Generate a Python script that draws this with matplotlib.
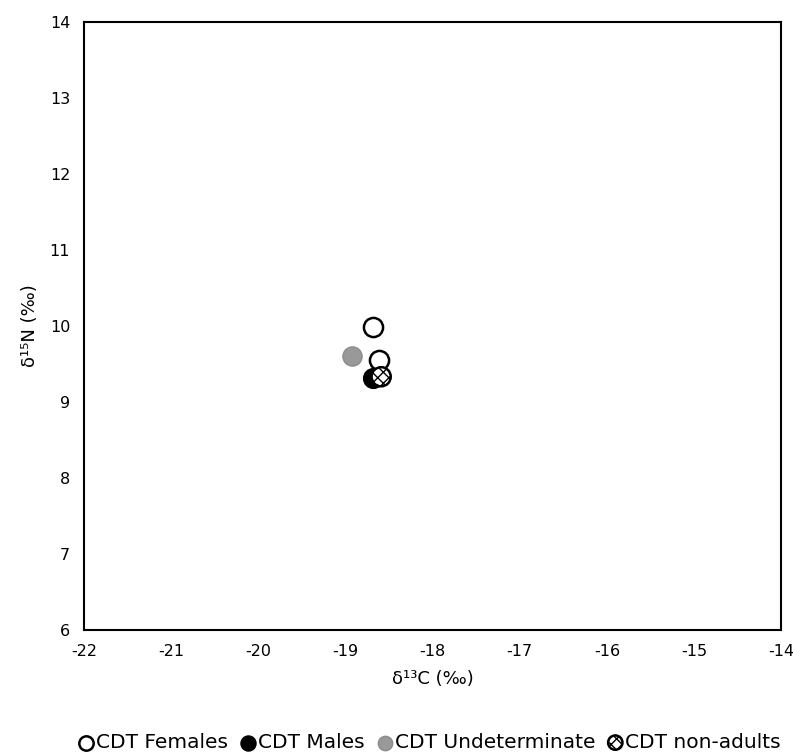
import numpy as np
import matplotlib.pyplot as plt
from matplotlib.ticker import MultipleLocator

X_START = -22
X_END = -14
Y_START = 6
Y_END = 14
X_LABEL = "δ¹³C (‰)"
Y_LABEL = "δ¹⁵N (‰)"

# data
fem_x = [-18.68, -18.62]
fem_y = [9.99, 9.55]
male_x = [-18.68]
male_y = [9.32]
und_x = [-18.92]
und_y = [9.60]
nonad_x = [-18.59]
nonad_y = [9.33]

plt.rcParams['font.family'] = ['DejaVu Sans']
plt.rcParams['font.size'] = 11.5
plt.rcParams['axes.unicode_minus'] = False

fig = plt.figure(figsize=(7.93, 7.56), dpi=100)
ax = fig.add_axes([0.106, 0.167, 0.879, 0.804])

S = 190
ax.scatter(und_x, und_y, s=S, facecolor="#999999", edgecolor="#8c8c8c", linewidths=1, label="CDT Undeterminate", zorder=3)
ax.scatter(male_x, male_y, s=S, facecolor="black", edgecolor="black", linewidths=1.5, label="CDT Males", zorder=3)
ax.scatter(fem_x, fem_y, s=S, facecolor="white", edgecolor="black", linewidths=1.8, label="CDT Females", zorder=4)
ax.scatter(nonad_x, nonad_y, s=S, facecolor="white", edgecolor="black", linewidths=1.8, hatch="xxx", label="CDT non-adults", zorder=5)

ax.set_xlim(X_START, X_END)
ax.set_ylim(Y_START, Y_END)
ax.xaxis.set_major_locator(MultipleLocator(1))
ax.yaxis.set_major_locator(MultipleLocator(1))
ax.tick_params(length=0, pad=10)
for sp in ax.spines.values():
    sp.set_linewidth(1.5)

ax.set_xlabel(X_LABEL, labelpad=8, fontsize=13)
ax.set_ylabel(Y_LABEL, labelpad=8, fontsize=13)

h, l = ax.get_legend_handles_labels()
order = [2, 1, 0, 3]
fig.legend([h[i] for i in order], [l[i] for i in order], loc="center", bbox_to_anchor=(0.54, 0.018),
           ncol=4, frameon=False, handletextpad=0.0, columnspacing=0.5, markerscale=0.75,
           handlelength=1.0, fontsize=14.5, borderpad=0)

fig.savefig("out.png")
